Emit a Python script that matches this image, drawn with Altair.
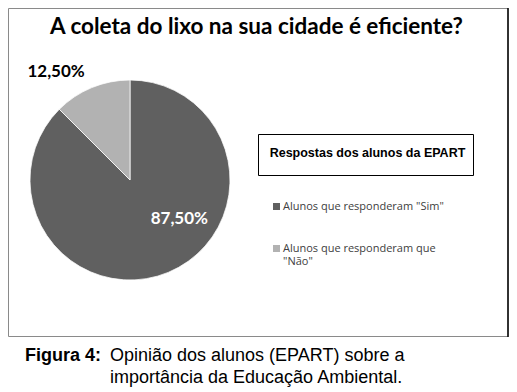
import json
import altair as alt
import pandas as pd

# ---- data ----
categories = ['Alunos que responderam "Sim"', 'Alunos que responderam que "Não"']
values = [87.5, 12.5]
order = [1, 2]
colors = ["#606060", "#b2b2b2"]

title_text = "A coleta do lixo na sua cidade é eficiente?"
legend_title = "Respostas dos alunos da EPART"
caption_bold = "Figura 4:"
caption_line1 = "Opinião dos alunos (EPART) sobre a"
caption_line2 = "importância da Educação Ambiental."

df = pd.DataFrame({"cat": categories, "value": values, "ord": order})

CX, CY, R = 122, 172, 100
W, H = 501, 380

one = pd.DataFrame({"k": [0]})

frame = alt.Chart(one).mark_rect(fill="white", stroke="#8a8a8a", strokeWidth=1).encode(
    x=alt.value(0.5), x2=alt.value(500), y=alt.value(0.5), y2=alt.value(328.5)
)
right_edge = alt.Chart(one).mark_rule(color="#000000", strokeWidth=1.5).encode(
    x=alt.value(500), y=alt.value(0), y2=alt.value(329)
)

label_expr = "datum.label == {} ? [{}, {}] : datum.label".format(
    json.dumps(categories[1]), json.dumps('Alunos que responderam que'), json.dumps('"Não"')
)

pie = alt.Chart(df).mark_arc(outerRadius=R, stroke="white", strokeWidth=0.75).encode(
    theta=alt.Theta("value:Q", stack=True),
    color=alt.Color(
        "cat:N",
        scale=alt.Scale(domain=categories, range=colors),
        legend=alt.Legend(
            title=None, orient="none", legendX=263, legendY=193,
            symbolType="square", symbolSize=49, symbolStrokeWidth=0,
            symbolOffset=0, padding=0, labelOffset=1,
            labelFont="Open Sans", labelFontSize=11, labelColor="#404040",
            rowPadding=30, labelLimit=300, labelExpr=label_expr,
        ),
    ),
    order=alt.Order("ord:Q"),
    x=alt.value(CX), y=alt.value(CY),
)

lab_base = alt.Chart(df).transform_joinaggregate(
    total="sum(value)"
).transform_window(
    cum="sum(value)", sort=[alt.SortField("ord")], frame=[None, 0]
).transform_calculate(
    mid="(datum.cum - datum.value/2)/datum.total*2*PI",
    label="replace(format(datum.value, '.2f'), '.', ',') + '%'",
)

lab_sim = lab_base.transform_calculate(
    lx=f"{CX} + 61*sin(datum.mid)", ly=f"{CY} - 61*cos(datum.mid)"
).transform_filter("datum.ord == 1").mark_text(
    font="Lato", fontWeight="bold", fontSize=17, color="white", dx=26, dy=-17
).encode(x=alt.X("lx:Q", scale=None), y=alt.Y("ly:Q", scale=None), text="label:N")

lab_nao = lab_base.transform_calculate(
    lx=f"{CX} + 120*sin(datum.mid)", ly=f"{CY} - 120*cos(datum.mid)"
).transform_filter("datum.ord == 2").mark_text(
    font="Lato", fontWeight="bold", fontSize=17, color="black", dx=-28, dy=3
).encode(x=alt.X("lx:Q", scale=None), y=alt.Y("ly:Q", scale=None), text="label:N")

title = alt.Chart(one).mark_text(
    text=title_text, font="Lato", fontWeight="bold", fontSize=22.5, color="black",
    align="center", baseline="alphabetic",
).encode(x=alt.value(248.5), y=alt.value(25.5))

legend_box = alt.Chart(one).mark_rect(fill="white", stroke="black", strokeWidth=1).encode(
    x=alt.value(250.5), x2=alt.value(465.5), y=alt.value(126.5), y2=alt.value(167.5)
)
legend_title_mark = alt.Chart(one).mark_text(
    text=legend_title, font="Liberation Sans", fontWeight="bold", fontSize=12.5, color="black",
    align="center", baseline="alphabetic",
).encode(x=alt.value(359.5), y=alt.value(149))

cap_b = alt.Chart(one).mark_text(
    text=caption_bold, font="Liberation Sans", fontWeight="bold", fontSize=18, color="black",
    align="left", baseline="alphabetic",
).encode(x=alt.value(17), y=alt.value(353))
cap_1 = alt.Chart(one).mark_text(
    text=caption_line1, font="Liberation Sans", fontSize=18, color="black",
    align="left", baseline="alphabetic",
).encode(x=alt.value(102), y=alt.value(353))
cap_2 = alt.Chart(one).mark_text(
    text=caption_line2, font="Liberation Sans", fontSize=18, color="black",
    align="left", baseline="alphabetic",
).encode(x=alt.value(102), y=alt.value(375))

chart = alt.layer(
    frame, right_edge, pie, lab_sim, lab_nao, title, legend_box, legend_title_mark,
    cap_b, cap_1, cap_2,
).properties(
    width=W, height=H, padding=0, autosize=alt.AutoSizeParams(type="none"), background="white"
).configure_view(stroke=None)

chart.save("out.html", embed_options={"renderer": "svg", "actions": False})
